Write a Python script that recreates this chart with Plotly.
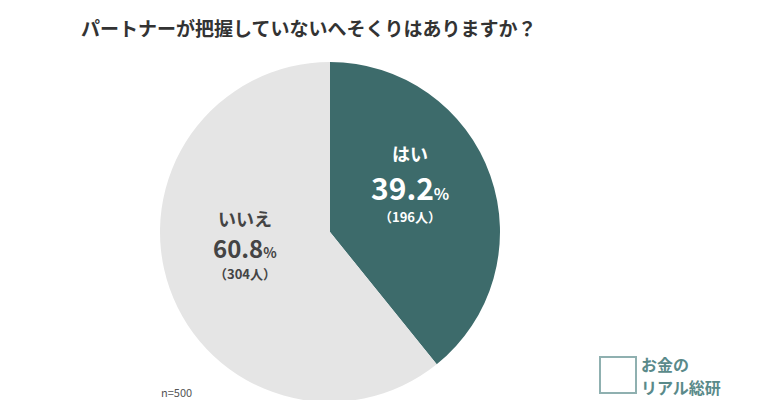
import plotly.graph_objects as go

labels = ["はい", "いいえ"]
percents = [39.2, 60.8]
counts = [196, 304]
colors = ["#3d6b6b", "#e5e5e5"]

W, H = 760, 470
F = "Noto Sans CJK JP"
fig = go.Figure(go.Pie(
    labels=labels, values=percents, sort=False, direction="clockwise", rotation=0,
    marker=dict(colors=colors, line=dict(width=0)), textinfo="none", hoverinfo="skip",
    domain=dict(x=[160/W, 500/W], y=[(H-402)/H, (H-62)/H]),
))

def yp(py):
    return (H-py)/H

ann = [
    dict(x=80/W, y=yp(28), text="<b>パートナーが把握していないへそくりはありますか？</b>",
         xanchor="left", yanchor="middle", font=dict(size=19, color="#333333", family=F)),
    dict(x=410/W, y=yp(153), text="<b>はい</b>", font=dict(size=18, color="white", family=F)),
    dict(x=410/W, y=yp(187), text="<b>39.2</b><span style='font-size:16px'><b>%</b></span>",
         font=dict(size=30, color="white", family=F)),
    dict(x=410/W, y=yp(217), text="<b>（196人）</b>", font=dict(size=13, color="white", family=F)),
    dict(x=245/W, y=yp(218), text="<b>いいえ</b>", font=dict(size=18, color="#444444", family=F)),
    dict(x=245/W, y=yp(247), text="<b>60.8</b><span style='font-size:14px'><b>%</b></span>",
         font=dict(size=24, color="#444444", family=F)),
    dict(x=245/W, y=yp(273), text="<b>（304人）</b>", font=dict(size=13, color="#444444", family=F)),
    dict(x=160/W, y=yp(392), text="n=500", xanchor="left",
         font=dict(size=11, color="#555555", family=F)),
    dict(x=640/W, y=yp(364), text="<b>お金の</b>", xanchor="left",
         font=dict(size=16, color="#5a8a8a", family=F)),
    dict(x=640/W, y=yp(387), text="<b>リアル総研</b>", xanchor="left",
         font=dict(size=16, color="#5a8a8a", family=F)),
]
for a in ann:
    a.setdefault("xanchor", "center")
    a.setdefault("yanchor", "middle")
    a["showarrow"] = False
    a["borderpad"] = 0
    a["xref"] = "paper"; a["yref"] = "paper"

fig.update_layout(width=W, height=H, margin=dict(l=0, r=0, t=0, b=0),
                  paper_bgcolor="white", plot_bgcolor="white", showlegend=False,
                  annotations=ann,
                  shapes=[dict(type="rect", xref="paper", yref="paper",
                               x0=600/W, x1=636/W, y0=yp(393), y1=yp(357),
                               line=dict(color="#8fb0b0", width=2), fillcolor="rgba(0,0,0,0)")])
fig.write_html("out.html", config={"displayModeBar": False},
               post_script="document.body.style.overflow='hidden';document.body.style.margin='0';")
